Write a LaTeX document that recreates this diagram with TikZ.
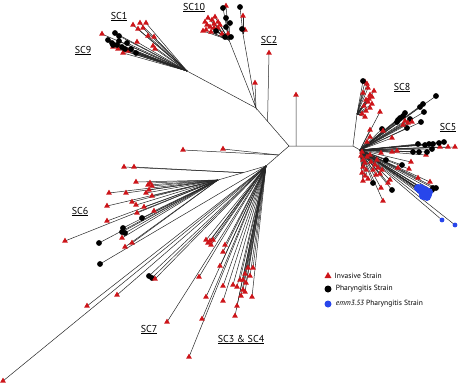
\documentclass[tikz,border=0pt]{standalone}
\usepackage{fontspec}
\setmainfont{PT Sans}
\usetikzlibrary{shapes.geometric,backgrounds,calc,positioning}
\definecolor{invred}{RGB}{205,20,25}
\definecolor{emmblue}{RGB}{40,70,235}
\newcommand{\fan}[3]{%
  \foreach \q [count=\k] in {#3} {%
    \begin{pgfonlayer}{background}\draw[branch] (#1) -- \q;\end{pgfonlayer}%
    \node[#2] (#1-#2-\k) at \q {};%
  }}

\begin{document}
\begin{tikzpicture}[x=1pt,y=-1pt,
  branch/.style={draw=black!85,line width=0.5pt},
  inv/.style={regular polygon,regular polygon sides=3,fill=invred,inner sep=0pt,minimum size=6.8pt},
  pha/.style={circle,fill=black,inner sep=0pt,minimum size=5.8pt},
  emm/.style={circle,fill=emmblue,inner sep=0pt,minimum size=4.8pt},
  clade/.style={font=\fontsize{10}{12}\selectfont,anchor=base,inner sep=0pt},
  legend/.style={font=\fontsize{7.5}{9}\selectfont,inner sep=0pt,anchor=west}]
\useasboundingbox (0,0) rectangle (459,384);
\coordinate (L0) at (289,146);
\coordinate (R0) at (353,146);
\coordinate (R1) at (360,150);
\coordinate (S8) at (357,114);
\coordinate (A) at (256,108);
\coordinate (T10) at (229,40);
\coordinate (T10b) at (243,34);
\coordinate (S19) at (187,71);
\coordinate (L1) at (266,166);
\coordinate (L2) at (218,180);
\coordinate (BB) at ($(L0)!0.11!(R0)$);
\coordinate (N2) at ($(L0)!0.65!(A)$);
\coordinate (B) at ($(L0)!0.45!(L1)$);
\coordinate (C) at ($(L1)!0.48!(L2)$);
\begin{pgfonlayer}{background}
\draw[branch] (S8) -- (R0) -- (L0) -- (A) -- (S19);
\draw[branch] (R0) -- (R1);
\draw[branch] (T10) -- (A) -- (T10b);
\draw[branch] (L0) -- (L1) -- (L2);
\end{pgfonlayer}
\fan{BB}{inv}{(296,95)}
\fan{N2}{inv}{(269,53)}
\fan{A}{inv}{(255,83)}
\fan{T10}{inv}{(205,22),(208,18),(212,20),(215,17),(218,22),(210,27),(214,28),(206,30),(203,31),(211,32),(218,28),(220,25),(207,25),(214,24),(228,34),(222,34),(226,6)}
\fan{T10}{pha}{(223,8),(226,18),(230,23),(226,27),(216,31),(225,37),(231,37)}
\fan{T10b}{inv}{(243,16),(245,30)}
\fan{T10b}{pha}{(240,7),(242,29)}
\fan{S19}{inv}{(133,25),(140,23),(146,23),(138,29),(143,28),(148,36),(154,37),(137,42),(153,46),(155,49),(102,34),(123,53),(128,51),(113,47),(118,49)}
\fan{S19}{pha}{(115,33),(119,36),(119,41),(108,40),(112,43),(113,45),(117,45),(127,43),(131,49),(136,53),(122,47),(125,49)}
\fan{B}{inv}{(183,150),(223,149)}
\fan{C}{inv}{(124,167),(134,167)}
\fan{L2}{inv}{(136,182),(148,185),(150,183),(152,186),(109,193),(126,193),(152,196),(107,206),(132,202),(136,205),(144,207),(137,213),(154,211),(107,221),(65,241),(122,238),(125,247),(132,243),(146,193),(149,190)}
\fan{L2}{pha}{(142,218),(123,228),(122,232),(125,233),(99,243)}
\fan{L1}{pha}{(100,264),(149,276),(152,278)}
\fan{L1}{inv}{(155,279),(117,295),(87,306),(3,381),(167,322),(189,357),(199,277),(206,297),(202,319),(223,301),(223,286),(220,266),(225,245),(223,252),(208,243),(210,241),(213,240),(206,240),(211,245)}
\fan{L1}{inv}{(248,268),(253,268),(245,274),(240,280),(243,280),(246,283),(233,285),(237,287),(245,292),(243,290),(252,297),(237,306),(235,316),(250,276),(241,296)}
\fan{S8}{inv}{(365,82),(367,84),(368,88),(374,91),(372,97),(370,95),(366,100),(368,102),(372,104),(364,106),(370,108),(366,111),(362,114),(365,117),(369,99),(363,93)}
\fan{S8}{pha}{(363,81)}
\fan{R1}{pha}{(436,96),(423,104),(420,107),(424,112),(421,122),(405,113),(403,116),(400,118),(397,122),(398,120),(410,119),(407,128),(382,129)}
\fan{R1}{inv}{(403,125),(408,123),(412,122),(380,112),(370,130),(383,131),(392,138),(367,142),(370,137),(405,121)}
\fan{R1}{inv}{(448,147),(455,147),(440,147),(426,155),(381,153),(392,152),(397,151),(411,162),(398,168),(409,169),(418,178),(430,182),(381,188),(383,201),(388,183),(390,180)}
\fan{R1}{pha}{(418,144),(425,145),(429,144),(433,144),(439,143),(444,142),(413,152),(419,152),(427,152),(432,149),(386,160),(402,165),(373,183),(392,190),(433,188),(436,188),(432,190)}
\fan{R1}{inv}{(362,152),(361,156),(363,160),(365,163),(363,167),(366,170),(362,173),(365,176),(368,179),(363,181),(367,157),(371,162),(373,170),(376,175),(380,174),(378,168),(375,165),(370,155),(382,170),(377,160)}
\fan{R1}{emm,minimum size=8pt}{(418,188),(420,190),(422,192),(424,193),(426,194),(428,195),(421,188),(425,190),(429,192),(423,196),(427,197)}
\fan{R1}{emm}{(442,220),(455,225)}
\node[clade] (sc1) at (119,19) {\underline{SC1}};
\node[clade] (sc9) at (83,53) {\underline{SC9}};
\node[clade] (sc10) at (194,10) {\underline{SC10}};
\node[clade] (sc2) at (269,43) {\underline{SC2}};
\node[clade] (sc8) at (402,90) {\underline{SC8}};
\node[clade] (sc5) at (448,130) {\underline{SC5}};
\node[clade] (sc6) at (80,214) {\underline{SC6}};
\node[clade] (sc7) at (149,332) {\underline{SC7}};
\node[clade] (sc34) at (241,342) {\underline{SC3 \& SC4}};
\node[inv,minimum size=8pt] (k1) at (328,276) {};
\node[pha,minimum size=7pt] (k2) at (328,289) {};
\node[emm,minimum size=7pt] (k3) at (328,304) {};
\node[legend,right=4pt of k1] (t1) {Invasive Strain};
\node[legend,right=4pt of k2] (t2) {Pharyngitis Strain};
\node[legend,right=4pt of k3] (t3) {\textit{emm3.53} Pharyngitis Strain};
\end{tikzpicture}
\end{document}
